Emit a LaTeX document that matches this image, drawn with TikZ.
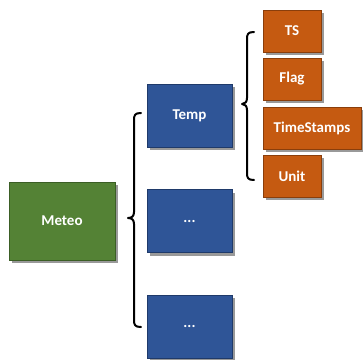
\documentclass[tikz,border=0pt]{standalone}
\usepackage{fontspec}
\setmainfont{Carlito}
\usetikzlibrary{shadows}
\definecolor{meteogreen}{HTML}{548235}
\definecolor{meteogreenD}{HTML}{3B5E25}
\definecolor{varblue}{HTML}{2F5597}
\definecolor{varblueD}{HTML}{1F3A6A}
\definecolor{fieldorange}{HTML}{C55A11}
\definecolor{fieldorangeD}{HTML}{8A3E0B}
\begin{document}
\begin{tikzpicture}[x=1pt,y=-1pt,
  box/.style={draw, line width=0.8pt, inner sep=0pt, text=white,
    font=\fontsize{15}{17}\selectfont\bfseries,
    drop shadow={shadow xshift=3pt, shadow yshift=-3pt, fill=black!40, opacity=1}},
  rootbox/.style={box, fill=meteogreen, draw=meteogreenD, minimum width=106pt, minimum height=78pt},
  varbox/.style={box, fill=varblue, draw=varblueD, minimum width=85pt, minimum height=63pt},
  fieldbox/.style={box, fill=fieldorange, draw=fieldorangeD, minimum width=58pt, minimum height=42pt},
  bracepath/.style={draw, line width=2pt, line cap=round, line join=round}]
\useasboundingbox (0,0) rectangle (363,359);

\node[rootbox] (meteo) at (62,221) {Meteo};
\node[varbox] (temp) at (189.5,115.5) {Temp};
\node[varbox] (var2) at (189.5,221) {...};
\node[varbox] (var3) at (189.5,326.5) {...};

\node[fieldbox] (ts) at (292,31) {TS};
\node[fieldbox] (flag) at (292,79) {Flag};
\node[fieldbox, minimum width=98pt] (stamps) at (312,128) {TimeStamps};
\node[fieldbox] (unit) at (292,176) {Unit};

% brace grouping the variables of Meteo
\path[bracepath] (141,113) .. controls (135,113) and (134,115) .. (134,120)
  -- (134,212) .. controls (134,216) and (132,218) .. (128,218)
  .. controls (132,218) and (134,220) .. (134,224)
  -- (134,320) .. controls (134,325) and (135,327) .. (141,327);

% brace grouping the fields of Temp
\path[bracepath] (254,32) .. controls (248,32) and (247,34) .. (247,39)
  -- (247,98) .. controls (247,102) and (245,104) .. (242,104)
  .. controls (245,104) and (247,106) .. (247,110)
  -- (247,173) .. controls (247,178) and (248,180) .. (254,180);
\end{tikzpicture}
\end{document}
